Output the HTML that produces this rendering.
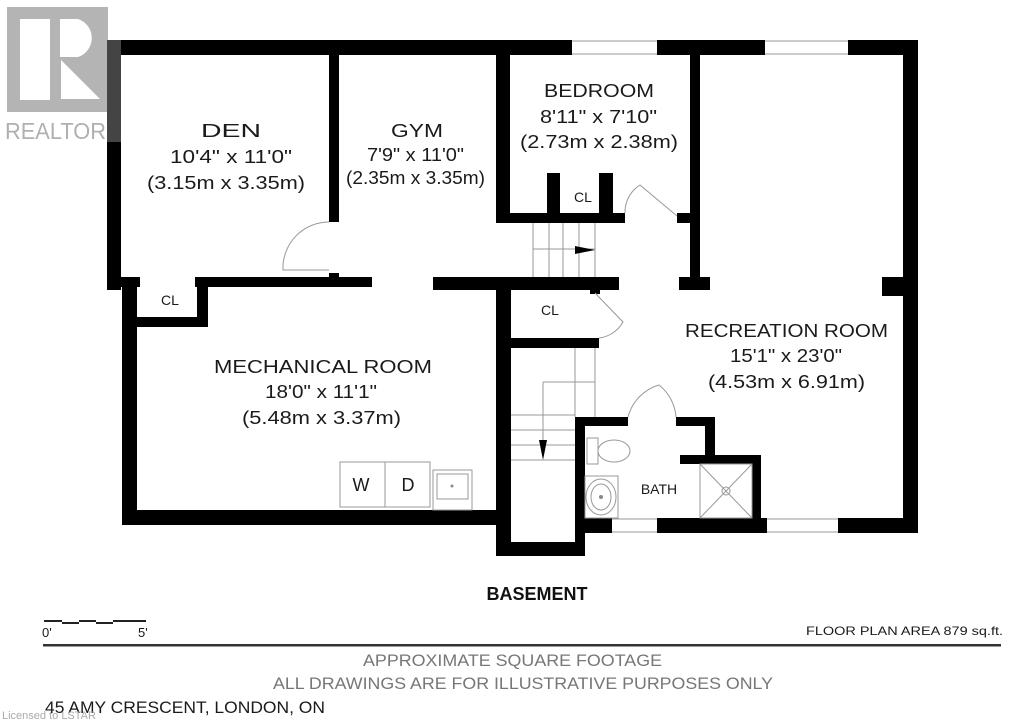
<!DOCTYPE html>
<html><head><meta charset="utf-8"><style>
html,body{margin:0;padding:0;background:#fff;}
svg{display:block;}
text{font-family:"Liberation Sans",sans-serif;fill:#1a1a1a;}
</style></head><body>
<svg width="1024" height="722" viewBox="0 0 1024 722" xmlns="http://www.w3.org/2000/svg">
<rect width="1024" height="722" fill="#fff"/>
<rect x="7" y="7" width="101" height="105" fill="#b4b4b4"/>
<rect x="20" y="19" width="30" height="81" fill="#fff"/>
<path d="M60 19 H78 A20 20 0 0 1 78 57 H60 Z" fill="#fff"/>
<path d="M61 60 L100 99 L61 99 Z" fill="#fff"/>
<text x="5" y="139" font-size="23" style="fill:#b0b0b0" textLength="101" lengthAdjust="spacingAndGlyphs">REALTOR</text>
<text x="108" y="124" font-size="7" style="fill:#b0b0b0">®</text>
<g fill="#000">
<rect x="107" y="40" width="465" height="15"/>
<rect x="657" y="40" width="108" height="15"/>
<rect x="848" y="40" width="70" height="15"/>
<rect x="903" y="40" width="15" height="493"/>
<rect x="107" y="40" width="14" height="250"/>
<rect x="107" y="277" width="33" height="10"/>
<rect x="122" y="277" width="15" height="248"/>
<rect x="122" y="510" width="389" height="15"/>
<rect x="496" y="277" width="15" height="279"/>
<rect x="496" y="542" width="89" height="14"/>
<rect x="575" y="417" width="10" height="139"/>
<rect x="575" y="518" width="37" height="15"/>
<rect x="657" y="518" width="110" height="15"/>
<rect x="838" y="518" width="80" height="15"/>
<rect x="329" y="55" width="10" height="167"/>
<rect x="329" y="273" width="10" height="6"/>
<rect x="195" y="277" width="177" height="10"/>
<rect x="197" y="277" width="11" height="50"/>
<rect x="137" y="317" width="71" height="10"/>
<rect x="433" y="277" width="186" height="13"/>
<rect x="590" y="289" width="10" height="5"/>
<rect x="496" y="55" width="14" height="168"/>
<rect x="496" y="213" width="129" height="10"/>
<rect x="547" y="173" width="13" height="42"/>
<rect x="599" y="173" width="14" height="42"/>
<rect x="690" y="55" width="10" height="235"/>
<rect x="677" y="213" width="13" height="10"/>
<rect x="679" y="277" width="31" height="13"/>
<rect x="882" y="277" width="36" height="19"/>
<rect x="503" y="338" width="96" height="10"/>
<rect x="575" y="417" width="53" height="9"/>
<rect x="676" y="417" width="39" height="9"/>
<rect x="705" y="417" width="10" height="47"/>
<rect x="680" y="455" width="81" height="9"/>
<rect x="752" y="455" width="9" height="78"/>
</g>
<rect x="107" y="40" width="14" height="102" fill="#444"/>
<g fill="none" stroke="#999" stroke-width="1">
<path d="M572 41 H657 M572 54 H657 M765 41 H848 M765 54 H848 M612 519 H657 M612 532 H657 M767 519 H838 M767 532 H838"/>
<path d="M329 222 A46 46 0 0 0 283 270 H329"/>
<path d="M625 213 A32 32 0 0 1 640 185 L677 216"/>
<path d="M595 293 L623 322 A32 32 0 0 1 599 338"/>
<path d="M628 417 A45 45 0 0 1 659 385 A45 45 0 0 1 676 417"/>
<path d="M533 223 V277 M549 223 V277 M563 223 V277 M579 223 V277 M595 223 V277 M533 249 H595"/>
<path d="M575 348 V417 M595 348 V417 M543 382 H595 M543 382 V445 M511 415 H575 M511 430 H575 M511 445 H575 M511 460 H575"/>
<rect x="700" y="464" width="52" height="54"/>
<path d="M700 464 L752 518 M752 464 L700 518"/>
<circle cx="726" cy="491" r="4"/>
<rect x="587" y="438" width="11" height="26"/>
<ellipse cx="614" cy="451" rx="16" ry="11"/>
<rect x="585" y="476" width="33" height="42"/>
<ellipse cx="601" cy="497" rx="15" ry="18"/>
<ellipse cx="601" cy="497" rx="10" ry="13"/>
<rect x="340" y="462" width="45" height="45"/>
<rect x="385" y="462" width="45" height="45"/>
<rect x="433" y="470" width="39" height="40"/>
<rect x="437" y="474" width="31" height="25"/>
</g>
<circle cx="601" cy="497" r="2" fill="#888"/>
<circle cx="452" cy="486" r="1.5" fill="#888"/>
<path d="M575 246 L595 250 L575 254 Z" fill="#000"/>
<path d="M539 440 L543 460 L547 440 Z" fill="#000"/>
<g font-size="18">
<text x="201" y="137" textLength="60" lengthAdjust="spacingAndGlyphs">DEN</text>
<text x="170" y="163" textLength="122" lengthAdjust="spacingAndGlyphs">10'4" x 11'0"</text>
<text x="147" y="189" textLength="158" lengthAdjust="spacingAndGlyphs">(3.15m x 3.35m)</text>
<text x="391" y="137" textLength="52" lengthAdjust="spacingAndGlyphs">GYM</text>
<text x="367" y="161" textLength="97" lengthAdjust="spacingAndGlyphs">7'9" x 11'0"</text>
<text x="346" y="184" textLength="139" lengthAdjust="spacingAndGlyphs">(2.35m x 3.35m)</text>
<text x="544" y="97" textLength="110" lengthAdjust="spacingAndGlyphs">BEDROOM</text>
<text x="540" y="123" textLength="117" lengthAdjust="spacingAndGlyphs">8'11" x 7'10"</text>
<text x="520" y="148" textLength="158" lengthAdjust="spacingAndGlyphs">(2.73m x 2.38m)</text>
<text x="685" y="337" textLength="203" lengthAdjust="spacingAndGlyphs">RECREATION ROOM</text>
<text x="730" y="362" textLength="112" lengthAdjust="spacingAndGlyphs">15'1" x 23'0"</text>
<text x="708" y="388" textLength="157" lengthAdjust="spacingAndGlyphs">(4.53m x 6.91m)</text>
<text x="214" y="373" textLength="218" lengthAdjust="spacingAndGlyphs">MECHANICAL ROOM</text>
<text x="265" y="398" textLength="112" lengthAdjust="spacingAndGlyphs">18'0" x 11'1"</text>
<text x="242" y="424" textLength="159" lengthAdjust="spacingAndGlyphs">(5.48m x 3.37m)</text>
</g>
<g text-anchor="middle" font-size="18">
<text x="361" y="491">W</text>
<text x="408" y="491">D</text>
</g>
<g text-anchor="middle" font-size="14">
<text x="170" y="305">CL</text>
<text x="583" y="202">CL</text>
<text x="550" y="315">CL</text>
<text x="659" y="494">BATH</text>
</g>
<text x="537" y="600" text-anchor="middle" font-size="18" font-weight="bold" style="fill:#111">BASEMENT</text>
<path d="M44 621 H62 M62 623 H79 M79 621 H96 M96 623 H113 M113 621 H146" stroke="#222" stroke-width="2"/>
<text x="42" y="637" font-size="13">0'</text>
<text x="138" y="637" font-size="13">5'</text>
<text x="806" y="635" font-size="12" textLength="197" lengthAdjust="spacingAndGlyphs">FLOOR PLAN AREA 879 sq.ft.</text>
<rect x="43" y="644" width="958" height="2.5" fill="#333"/>
<text x="363" y="666" font-size="17" style="fill:#777" textLength="299" lengthAdjust="spacingAndGlyphs">APPROXIMATE SQUARE FOOTAGE</text>
<text x="273" y="689" font-size="17" style="fill:#777" textLength="500" lengthAdjust="spacingAndGlyphs">ALL DRAWINGS ARE FOR ILLUSTRATIVE PURPOSES ONLY</text>
<text x="45" y="713" font-size="17" textLength="280" lengthAdjust="spacingAndGlyphs">45 AMY CRESCENT, LONDON, ON</text>
<text x="2" y="719" font-size="11" style="fill:#aaa">Licensed to LSTAR</text>
</svg>
</body></html>
